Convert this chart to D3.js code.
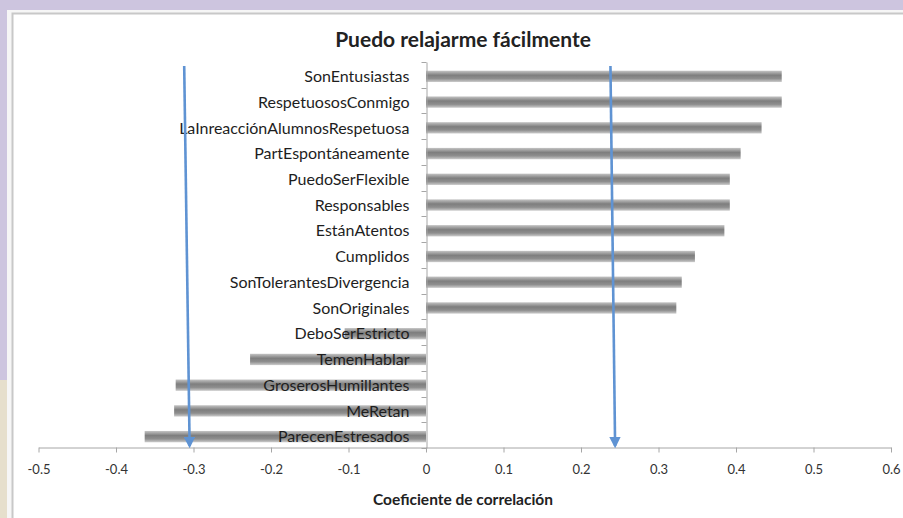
<!DOCTYPE html>
<html>
<head>
<meta charset="utf-8">
<script src="https://cdn.jsdelivr.net/npm/d3@7"></script>
<style>
  body { margin: 0; background: #cdc5df; }
  svg { display: block; }
  text { font-family: Lato, "Open Sans", sans-serif; fill: #222; }
</style>
</head>
<body>
<script>
// Correlation bars for "Puedo relajarme fácilmente"

// Categories, top to bottom
let categories = [
	"SonEntusiastas", "RespetuososConmigo", "LaInreacciónAlumnosRespetuosa",
	"PartEspontáneamente", "PuedoSerFlexible", "Responsables", "EstánAtentos",
	"Cumplidos", "SonTolerantesDivergencia", "SonOriginales", "DeboSerEstricto",
	"TemenHablar", "GroserosHumillantes", "MeRetan", "ParecenEstresados"
];

// Correlation coefficient per category
let values = [
	0.459, 0.459, 0.433, 0.406, 0.392, 0.392, 0.385,
	0.347, 0.330, 0.323, -0.105, -0.227, -0.323, -0.325, -0.363
];

// Tick labels of the value axis
let xTicks = [-0.5, -0.4, -0.3, -0.2, -0.1, 0, 0.1, 0.2, 0.3, 0.4, 0.5, 0.6];

// Blue arrows drawn over the chart (value at top, value at bottom)
let arrowTop = [-0.312, 0.238];
let arrowBottom = [-0.305, 0.244];

let W = 903, H = 518;

let svg = d3.select("body").append("svg")
	.attr("width", W)
	.attr("height", H);

let defs = svg.append("defs");

// Cylinder-like shading of the bars
let grad = defs.append("linearGradient")
	.attr("id", "barGrad")
	.attr("x1", 0).attr("y1", 0).attr("x2", 0).attr("y2", 1);
grad.append("stop").attr("offset", "0%").attr("stop-color", "#c4c4c4");
grad.append("stop").attr("offset", "40%").attr("stop-color", "#7e7e7e");
grad.append("stop").attr("offset", "70%").attr("stop-color", "#8e8e8e");
grad.append("stop").attr("offset", "100%").attr("stop-color", "#cccccc");

let marker = defs.append("marker")
	.attr("id", "arrowHead")
	.attr("viewBox", "0 0 10 10")
	.attr("refX", 8).attr("refY", 5)
	.attr("markerWidth", 4.5).attr("markerHeight", 4.5)
	.attr("orient", "auto");
marker.append("path")
	.attr("d", "M0,0 L10,5 L0,10 Z")
	.attr("fill", "#5f93d3");

// Background texture stand-in and the white slide panel
svg.append("rect").attr("width", W).attr("height", H).attr("fill", "#cdc5df");
svg.append("rect").attr("x", 0).attr("y", 380).attr("width", 8).attr("height", H - 380).attr("fill", "#e6dfcc");
svg.append("rect").attr("x", 7).attr("y", 10).attr("width", W).attr("height", H).attr("fill", "#f6f6f6");
svg.append("rect").attr("x", 12.5).attr("y", 13.5).attr("width", W).attr("height", H)
	.attr("fill", "#fff").attr("stroke", "#c8c8c8").attr("stroke-width", 2);

// Scales
let x = d3.scaleLinear()
	.domain([-0.5, 0.6])
	.range([38.5, 891]);

let y = d3.scaleBand()
	.domain(categories)
	.range([62, 448])
	.paddingInner(0.56)
	.paddingOuter(0.28);

// Bars
svg.append("g").selectAll("rect")
	.data(values)
	.enter().append("rect")
	.attr("x", d => x(Math.min(0, d)))
	.attr("y", (d, i) => y(categories[i]) + 1.5)
	.attr("width", d => Math.abs(x(d) - x(0)))
	.attr("height", y.bandwidth())
	.attr("fill", "url(#barGrad)");

// Value axis
let xAxis = svg.append("g")
	.attr("transform", "translate(0," + 447.5 + ")")
	.call(d3.axisBottom(x)
		.tickValues(xTicks)
		.tickSize(5)
		.tickSizeOuter(0)
		.tickPadding(12)
		.tickFormat(d => String(+d.toFixed(1))));
xAxis.select(".domain").attr("stroke", "#a6a6a6");
xAxis.selectAll(".tick line").attr("stroke", "#a6a6a6");
xAxis.selectAll(".tick text")
	.style("font-size", "13px")
	.style("fill", "#333");

// Category axis sits on zero
let yAxis = svg.append("g")
	.attr("transform", "translate(" + Math.round(x(0)) + ".5,0)")
	.call(d3.axisLeft(y).tickSize(0).tickPadding(17));
yAxis.select(".domain").attr("stroke", "#a6a6a6");
yAxis.selectAll(".tick text")
	.attr("dy", "0.45em")
	.style("font-size", "16px")
	.style("fill", "#1e1e1e");

// Tick marks between categories
svg.append("g").selectAll("line")
	.data(d3.range(categories.length + 1))
	.enter().append("line")
	.attr("x1", Math.round(x(0)) + 0.5 - 5)
	.attr("x2", Math.round(x(0)) + 0.5)
	.attr("y1", i => Math.round(y.range()[0] + i * y.step()) + 0.5)
	.attr("y2", i => Math.round(y.range()[0] + i * y.step()) + 0.5)
	.attr("stroke", "#a6a6a6");

// Arrows
svg.append("g").selectAll("line")
	.data(arrowTop)
	.enter().append("line")
	.attr("x1", d => x(d))
	.attr("y1", 66)
	.attr("x2", (d, i) => x(arrowBottom[i]))
	.attr("y2", 446)
	.attr("stroke", "#5f93d3")
	.attr("stroke-width", 2.6)
	.attr("marker-end", "url(#arrowHead)");

// Titles
svg.append("text")
	.attr("x", 463)
	.attr("y", 47)
	.attr("text-anchor", "middle")
	.style("font-size", "21px")
	.style("font-weight", "bold")
	.text("Puedo relajarme fácilmente");

svg.append("text")
	.attr("x", 463)
	.attr("y", 505)
	.attr("text-anchor", "middle")
	.style("font-size", "15.5px")
	.style("font-weight", "bold")
	.text("Coeficiente de correlación");
</script>
</body>
</html>
